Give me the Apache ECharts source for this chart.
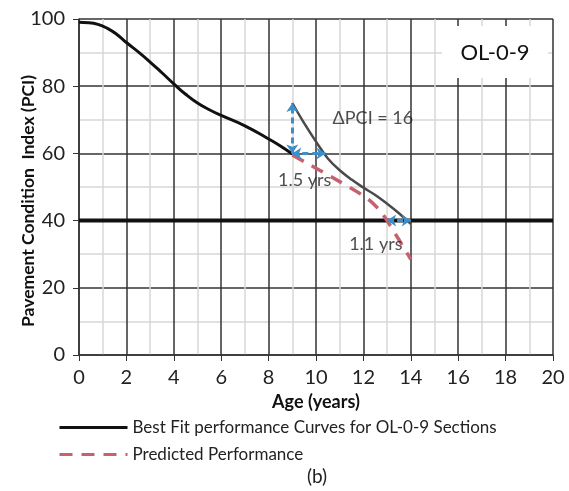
<!DOCTYPE html>
<html>
<head>
<meta charset="utf-8">
<script src="https://cdn.jsdelivr.net/npm/echarts@6/dist/echarts.min.js"></script>
<style>
  html, body { margin: 0; padding: 0; background: #fff; }
  #chart { width: 569px; height: 491px; }
</style>
</head>
<body>
<div id="chart"></div>
<script>
// best fit curve (age, PCI)
var bestFitAge = [0, 0.4, 0.8, 1.2, 1.6, 2, 2.5, 3, 3.5, 4, 4.5, 5, 5.5, 6, 7, 8, 8.5, 9];
var bestFitPCI = [99, 98.9, 98.4, 97.2, 95.4, 93, 90.2, 87.2, 84, 80.7, 77.6, 75, 73, 71.3, 68.2, 64.3, 62.2, 59.8];
// shifted curve after treatment
var shiftedAge = [9, 9.5, 10, 10.5, 11, 11.5, 12, 12.5, 13, 13.5, 14];
var shiftedPCI = [75, 69, 63.5, 58.5, 55, 52.2, 49.8, 47.6, 45, 42.2, 39];
// predicted performance
var predAge = [9, 10, 11, 11.8, 12.3, 12.7, 13, 13.5, 14];
var predPCI = [59.5, 55.6, 51.6, 48.3, 45.8, 43, 40, 34.3, 28.5];
var thresholdPCI = 40;
var xTicks = [0, 20, 2];   // min, max, step
var yTicks = [0, 100, 20];

var FONT = 'Lato';
var chart = echarts.init(document.getElementById('chart'));

function pairs(xs, ys) {
    return xs.map(function (x, i) { return [x, ys[i]]; });
}

chart.setOption({
    animation: false,
    grid: { left: 79, right: 16, top: 19, bottom: 136 },
    legend: {
        orient: 'vertical',
        left: 53,
        top: 414,
        itemWidth: 68,
        itemHeight: 14,
        itemGap: 10,
        itemStyle: { opacity: 0 },
        lineStyle: { width: 3 },
        textStyle: { fontFamily: FONT, fontSize: 17, color: '#222' },
        data: ['Best Fit performance Curves for OL-0-9 Sections', 'Predicted Performance']
    },
    xAxis: {
        type: 'value',
        min: xTicks[0], max: xTicks[1], interval: xTicks[2],
        name: 'Age (years)',
        nameLocation: 'middle',
        nameGap: 38,
        nameTextStyle: { fontFamily: FONT, fontSize: 18, fontWeight: 'bold', color: '#111' },
        axisLine: { lineStyle: { color: '#333', width: 1.5 } },
        axisTick: { show: true, length: 6, lineStyle: { color: '#333' } },
        axisLabel: { fontFamily: FONT, fontSize: 20, color: '#222', margin: 13 },
        splitLine: { lineStyle: { color: '#333', width: 1.5 } },
        minorTick: { show: false, splitNumber: 2 },
        minorSplitLine: { show: true, lineStyle: { color: '#d8d8d8', width: 1.5 } }
    },
    yAxis: {
        type: 'value',
        min: yTicks[0], max: yTicks[1], interval: yTicks[2],
        axisLine: { show: true, lineStyle: { color: '#333', width: 1.5 } },
        axisTick: { show: true, length: 6, lineStyle: { color: '#333' } },
        axisLabel: { fontFamily: FONT, fontSize: 20, color: '#222', margin: 14 },
        splitLine: { lineStyle: { color: '#333', width: 1.5 } },
        minorTick: { show: false, splitNumber: 2 },
        minorSplitLine: { show: true, lineStyle: { color: '#d8d8d8', width: 1.5 } }
    },
    graphic: [{
        type: 'group',
        left: 442, top: 26,
        z: 100,
        children: [
            { type: 'rect', z: 100, shape: { x: 0, y: 0, width: 106, height: 52 }, style: { fill: '#fff' } },
            { type: 'text', z: 101, x: 53, y: 27, style: { text: 'OL-0-9', fontFamily: FONT, fontSize: 22, fill: '#111', align: 'center', verticalAlign: 'middle' } }
        ]
    }, {
        type: 'text', x: 28, y: 201, rotation: Math.PI / 2,
        style: { text: 'Pavement Condition  Index (PCI)', fontFamily: FONT, fontSize: 17.5, fontWeight: 'bold', fill: '#111', align: 'center', verticalAlign: 'middle' }
    }, {
        type: 'text', x: 317, y: 477,
        style: { text: '(b)', fontFamily: FONT, fontSize: 19, fill: '#222', align: 'center', verticalAlign: 'middle' }
    }],
    series: [
        {
            name: 'Threshold',
            type: 'line',
            symbol: 'none',
            data: [[xTicks[0], thresholdPCI], [xTicks[1], thresholdPCI]],
            lineStyle: { color: '#111', width: 4 },
            z: 3
        },
        {
            name: 'Best Fit performance Curves for OL-0-9 Sections',
            type: 'line',
            smooth: 0.5,
            symbol: 'none',
            data: pairs(bestFitAge, bestFitPCI),
            lineStyle: { color: '#111', width: 3 },
            itemStyle: { color: '#111' },
            z: 5
        },
        {
            name: 'Shifted',
            type: 'line',
            smooth: 0.4,
            symbol: 'none',
            data: pairs(shiftedAge, shiftedPCI),
            lineStyle: { color: '#4a4a4a', width: 2.5 },
            z: 5
        },
        {
            name: 'Predicted Performance',
            type: 'line',
            smooth: 0.2,
            symbol: 'none',
            data: pairs(predAge, predPCI),
            lineStyle: { color: '#c4636f', width: 3.5, type: [13, 9] },
            itemStyle: { color: '#c4636f' },
            z: 4
        },
        {
            name: 'Arrows',
            type: 'lines',
            coordinateSystem: 'cartesian2d',
            symbol: ['arrow', 'arrow'],
            symbolSize: 9,
            lineStyle: { color: '#3b8fcc', width: 3, type: [6, 4], opacity: 1 },
            data: [
                { coords: [[9, 60], [9, 75]] },
                { coords: [[9, 60], [10.4, 60]] },
                { coords: [[13, 40], [14, 40]] }
            ],
            z: 6
        },
        {
            name: 'Labels',
            type: 'scatter',
            symbolSize: 0,
            data: [
                { value: [10.7, 70.5], label: { formatter: 'ΔPCI = 16' } },
                { value: [8.4, 52], label: { formatter: '1.5 yrs' } },
                { value: [11.4, 33], label: { formatter: '1.1 yrs' } }
            ],
            label: { show: true, position: 'right', distance: 0, fontFamily: FONT, fontSize: 18, color: '#222' },
            z: 7
        }
    ]
});
</script>
</body>
</html>
